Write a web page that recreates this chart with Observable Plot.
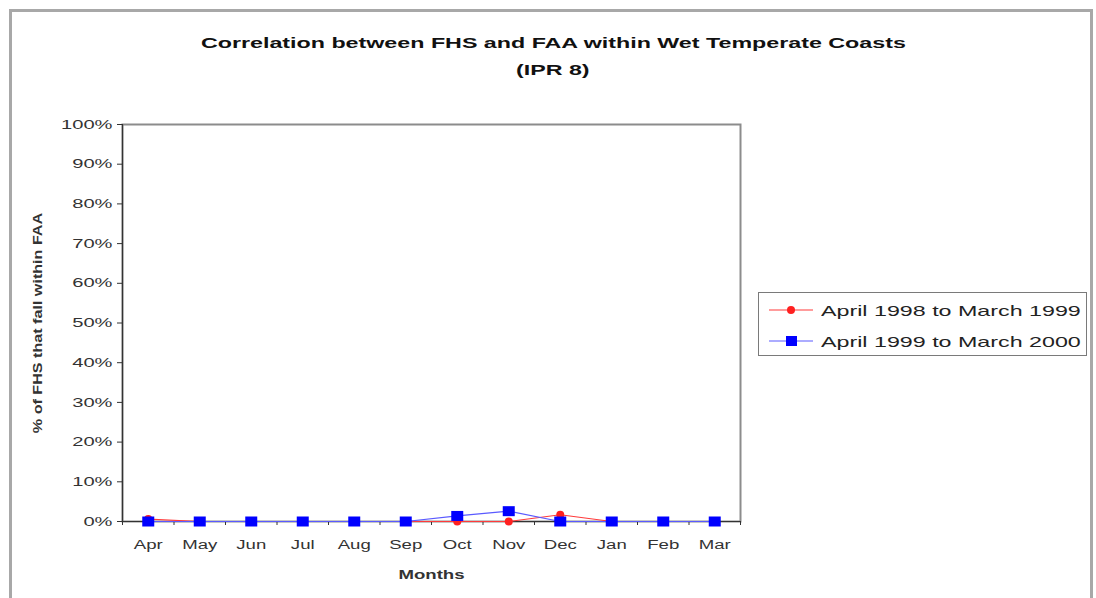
<!DOCTYPE html>
<html>
<head>
<meta charset="utf-8">
<script src="https://cdn.jsdelivr.net/npm/d3@7"></script>
<script src="https://cdn.jsdelivr.net/npm/@observablehq/plot@0.6"></script>
<style>
  html, body { margin: 0; padding: 0; background: #fff; }
  body { width: 1096px; height: 598px; overflow: hidden; font-family: "Liberation Sans", Arial, sans-serif; }
  #wrap { position: relative; width: 1096px; height: 598px; overflow: hidden; }
  #frame { position: absolute; left: 9px; top: 9px; width: 1084px; height: 620px; border: 3px solid #a8a8a8; box-sizing: border-box; }
  #chart { position: absolute; left: 0; top: 0; }
  #title { position: absolute; left: 53px; width: 1000px; top: 29px; text-align: center; font-weight: bold; font-size: 15px; line-height: 27px; color: #111; }
  #title span { display: inline-block; transform: scaleX(1.55); transform-origin: center; }
  #legend { position: absolute; left: 758px; top: 292px; width: 329px; height: 64px; border: 1.5px solid #7a7a7a; box-sizing: border-box; background: #fff; }
  .row { position: absolute; left: 10px; height: 20px; display: flex; align-items: center; }
  .row svg { display: block; }
  .row span { display: inline-block; margin-left: 8px; font-size: 15px; color: #222; transform: scaleX(1.55); transform-origin: left center; white-space: nowrap; }
  [aria-label="x-axis label"] text, [aria-label="y-axis label"] text { font-weight: bold; }
</style>
</head>
<body>
<div id="wrap">
  <div id="frame"></div>
  <div id="chart"></div>
  <div id="title"><span>Correlation between FHS and FAA within Wet Temperate Coasts</span><br><span>(IPR 8)</span></div>
  <div id="legend"></div>
</div>
<script>
// ---- data ----
const months = ["Apr", "May", "Jun", "Jul", "Aug", "Sep", "Oct", "Nov", "Dec", "Jan", "Feb", "Mar"];
const seriesNames = ["April 1998 to March 1999", "April 1999 to March 2000"];
const values1998 = [0.6, 0, 0, 0, 0, 0, 0, 0, 1.7, 0, 0, 0];   // % of FHS within FAA
const values1999 = [0, 0, 0, 0, 0, 0, 1.4, 2.6, 0, 0, 0, 0];
const yTickValues = [0, 10, 20, 30, 40, 50, 60, 70, 80, 90, 100];
const seriesColors = ["#ff2020", "#0000ff"];
const lineColors = ["#ff3b3b", "#5a5aff"];

const S = 1.55; // horizontal stretch of the reference's text

const rows1998 = values1998.map((v, i) => ({i, v}));
const rows1999 = values1999.map((v, i) => ({i, v}));

const wideSquare = {draw(ctx) { const w = 6, h = 5; ctx.rect(-w, -h, 2 * w, 2 * h); }};

const chart = Plot.plot({
  width: 1096,
  height: 598,
  marginLeft: 122,
  marginRight: 356,
  marginTop: 124,
  marginBottom: 77,
  style: {fontFamily: "'Liberation Sans', Arial, sans-serif", fontSize: "12px", color: "#333", background: "transparent"},
  x: {domain: [-0.5, months.length - 0.5]},
  y: {domain: [0, 100]},
  marks: [
    Plot.frame({stroke: "#8c8c8c", strokeWidth: 2}),
    Plot.axisY({ticks: yTickValues, tickFormat: d => `${d}%`, tickSize: 5, tickPadding: 5, stroke: "#333",
      label: "% of FHS that fall within FAA", labelAnchor: "center", labelArrow: "none", labelOffset: 90, fontSize: 13}),
    Plot.axisX({ticks: d3.range(months.length), tickFormat: i => months[i], tickSize: 0, tickPadding: 19,
      label: "Months", labelAnchor: "center", labelArrow: "none", labelOffset: 57}),
    Plot.axisX({ticks: d3.range(months.length + 1).map(k => k - 0.5), tickFormat: () => "", tickSize: 4, stroke: "#333", label: null}),
    Plot.ruleY([0], {stroke: "#333", strokeWidth: 1.2}),
    Plot.ruleX([-0.5], {stroke: "#333", strokeWidth: 1.2}),
    Plot.line(rows1998, {x: "i", y: "v", stroke: lineColors[0], strokeWidth: 1.2}),
    Plot.dot(rows1998, {x: "i", y: "v", r: 4, fill: seriesColors[0], stroke: null}),
    Plot.line(rows1999, {x: "i", y: "v", stroke: lineColors[1], strokeWidth: 1.2}),
    Plot.dot(rows1999, {x: "i", y: "v", r: 5, symbol: wideSquare, fill: seriesColors[1], stroke: null})
  ]
});
document.getElementById("chart").appendChild(chart);

// stretch text horizontally like the reference
chart.querySelectorAll("text").forEach(t => {
  if (!t.textContent.trim()) return;
  const isYLabel = t.closest('[aria-label="y-axis label"]');
  const L = t.getComputedTextLength();
  t.setAttribute("textLength", (L * (isYLabel ? 1.24 : S)).toFixed(1));
  t.setAttribute("lengthAdjust", "spacingAndGlyphs");
});

// legend
const legend = document.getElementById("legend");
seriesNames.forEach((name, k) => {
  const row = document.createElement("div");
  row.className = "row";
  row.style.top = (k === 0 ? 7 : 38) + "px";
  const marker = k === 0
    ? `<circle cx="22" cy="10" r="4" fill="${seriesColors[0]}"/>`
    : `<rect x="17" y="5" width="11" height="10" fill="${seriesColors[1]}"/>`;
  row.innerHTML = `<svg width="44" height="20"><line x1="0" x2="44" y1="10" y2="10" stroke="${lineColors[k]}" stroke-width="1.2"/>${marker}</svg><span>${name}</span>`;
  legend.appendChild(row);
});
</script>
</body>
</html>
